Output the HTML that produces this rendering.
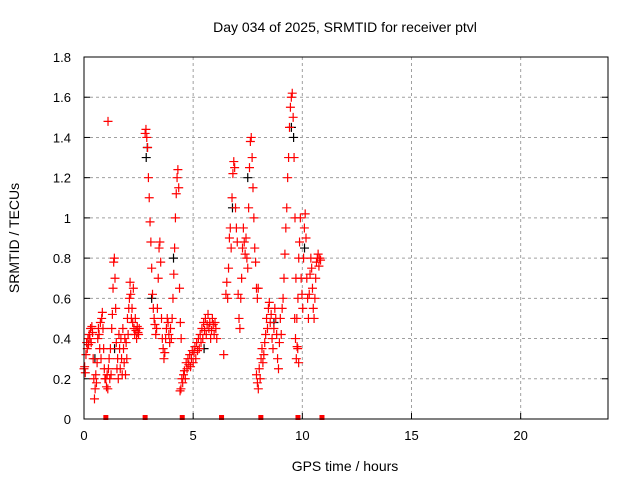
<!DOCTYPE html>
<html><head><meta charset="utf-8"><style>
body{margin:0;background:#fff}
svg{display:block;font-family:"Liberation Sans",sans-serif}
</style></head><body>
<svg id="chart" width="640" height="480">
<text x="345" y="32" text-anchor="middle" font-size="14">Day 034 of 2025, SRMTID for receiver ptvl</text>
<text x="345" y="471" text-anchor="middle" font-size="14">GPS time / hours</text>
<text x="0" y="0" transform="translate(19,238) rotate(-90)" text-anchor="middle" font-size="14">SRMTID / TECUs</text>
<g id="grid"></g>
<g id="ticks"></g>
<g id="black"></g>
<g id="red"></g>
<rect x="84" y="57" width="524" height="362" fill="none" stroke="#000" stroke-width="1"/>
</svg>
<script>
const xTicks=[0,5,10,15,20];
const yTicks=[0,0.2,0.4,0.6,0.8,1,1.2,1.4,1.6,1.8];
const yTickLabels=["0","0.2","0.4","0.6","0.8","1","1.2","1.4","1.6","1.8"];
const segStarts=[0,1.0,2.8,4.4,6.5,7.9,9.65];
const segSteps=[0.03,0.03,0.0375,0.04,0.04,0.042,0.037];
const seg1=[0.25,0.26,0.23,0.32,0.38,0.35,0.4,0.37,0.42,0.4,0.45,0.38,0.46,0.43,0.3,0.2,0.1,0.15,0.22,0.18,0.28,0.4,0.45,0.42,0.35,0.48,0.3,0.5,0.53,0.45,0.35,0.25,0.2];
const seg2=[0.2,0.16,0.22,0.15,0.25,0.3,0.2,0.35,0.22,0.45,0.52,0.65,0.78,0.8,0.7,0.55,0.38,0.25,0.3,0.2,0.42,0.35,0.25,0.4,0.3,0.22,0.45,0.35,0.28,0.4,0.22,0.38,0.3,0.5,0.42,0.55,0.6,0.68,0.62,0.5,0.55,0.48,0.65,0.45,0.42,0.5,0.44,0.4,0.46,0.43,0.42,0.45];
const seg3=[1.42,1.44,1.4,1.35,1.2,1.1,0.98,0.88,0.75,0.62,0.55,0.5,0.47,0.42,0.45,0.55,0.7,0.85,0.88,0.78,0.5,0.4,0.35,0.3,0.33,0.4,0.45,0.5,0.48,0.42,0.38,0.45,0.4,0.5,0.6,0.72,0.85,1.0,1.12,1.2,1.24,1.15,0.65,0.48,0.4];
const seg4=[0.14,0.15,0.2,0.18,0.22,0.24,0.2,0.28,0.25,0.3,0.27,0.32,0.26,0.3,0.34,0.28,0.33,0.36,0.3,0.38,0.34,0.4,0.35,0.42,0.38,0.45,0.4,0.48,0.44,0.5,0.42,0.47,0.52,0.45,0.48,0.4,0.44,0.5,0.47,0.42,0.48,0.45,0.4];
const seg5=[0.62,0.68,0.6,0.75,0.9,0.95,0.85,1.1,1.22,1.28,1.25,1.05,0.95,0.88,0.62,0.5,0.45,0.6,0.7,0.85,0.95,0.88,0.82,0.9,0.8,0.75,1.05,1.25,1.38,1.4,1.3,1.15,1.0,0.85,0.78,0.65,0.6,0.65];
const seg6=[0.22,0.18,0.15,0.25,0.2,0.3,0.35,0.28,0.32,0.38,0.42,0.5,0.45,0.55,0.58,0.48,0.52,0.4,0.35,0.45,0.55,0.5,0.42,0.3,0.25,0.38,0.5,0.42,0.55,0.6,0.7,0.82,0.95,1.05,1.2,1.3,1.45,1.55,1.6,1.62,1.5,1.3,1.0,0.7,0.5,0.35,0.28];
const seg7=[0.5,0.4,0.3,0.36,0.6,0.8,0.88,1.0,0.7,0.62,0.55,0.8,0.95,1.02,0.9,0.7,0.6,0.5,0.62,0.72,0.8,0.75,0.65,0.55,0.5,0.6,0.7,0.78,0.8,0.82,0.76,0.8,0.79];
const extraTimes=[1.1,6.4];
const extraValues=[1.48,0.32];
const blackTimes=[0.5,1.4,2.85,2.9,3.1,4.1,5.5,6.8,7.5,8.7,9.5,9.6,10.1];
const blackValues=[0.3,0.35,1.3,1.35,0.6,0.8,0.35,1.05,1.2,0.48,1.45,1.4,0.85];
const gapTimes=[1.0,2.8,4.5,6.3,8.1,9.8,10.9];

const X=t=>84+t*(524/24);
const Y=v=>419-v*(362/1.8);
const NS='http://www.w3.org/2000/svg';
function mk(tag,attrs,parent){const e=document.createElementNS(NS,tag);for(const k in attrs)e.setAttribute(k,attrs[k]);parent.appendChild(e);return e;}
const grid=document.getElementById('grid'),ticks=document.getElementById('ticks');
xTicks.forEach(t=>{
  if(t>0){const l=mk('line',{x1:X(t),x2:X(t),y1:57,y2:419,stroke:'#a0a0a0','stroke-dasharray':'3,3'},grid);
  
  }
  mk('line',{x1:X(t),x2:X(t),y1:419,y2:413,stroke:'#000'},ticks);
  const tx=mk('text',{x:X(t),y:440,'text-anchor':'middle','font-size':13},ticks);tx.textContent=t;
  
  
});
yTicks.forEach((v,i)=>{
  if(v>0&&v<1.8){const l=mk('line',{x1:84,x2:608,y1:Y(v),y2:Y(v),stroke:'#a0a0a0','stroke-dasharray':'3,3'},grid);
  
  }
  mk('line',{x1:84,x2:90,y1:Y(v),y2:Y(v),stroke:'#000'},ticks);
  mk('line',{x1:602,x2:608,y1:Y(v),y2:Y(v),stroke:'#000'},ticks);
  const tx=mk('text',{x:71,y:Y(v)+5,'text-anchor':'end','font-size':13},ticks);tx.textContent=yTickLabels[i];
  
  
});
function plus(t,v,color,parent){
  const x=X(t),y=Y(v);
  const p=mk('path',{d:`M${x-4.5},${y}H${x+4.5}M${x},${y-4.5}V${y+4.5}`,stroke:color,'stroke-width':1.2,fill:'none'},parent);
  
  
}
const blackG=document.getElementById('black'),redG=document.getElementById('red');
blackTimes.forEach((t,i)=>plus(t,blackValues[i],'#000',blackG));
[seg1,seg2,seg3,seg4,seg5,seg6,seg7].forEach((s,k)=>s.forEach((v,i)=>plus(segStarts[k]+i*segSteps[k],v,'#f00',redG)));
extraTimes.forEach((t,i)=>plus(t,extraValues[i],'#f00',redG));
gapTimes.forEach(t=>{
  const r=mk('rect',{x:X(t)-2.5,y:415,width:5,height:5,fill:'#f00'},redG);
  
  
});
</script>
</body></html>
